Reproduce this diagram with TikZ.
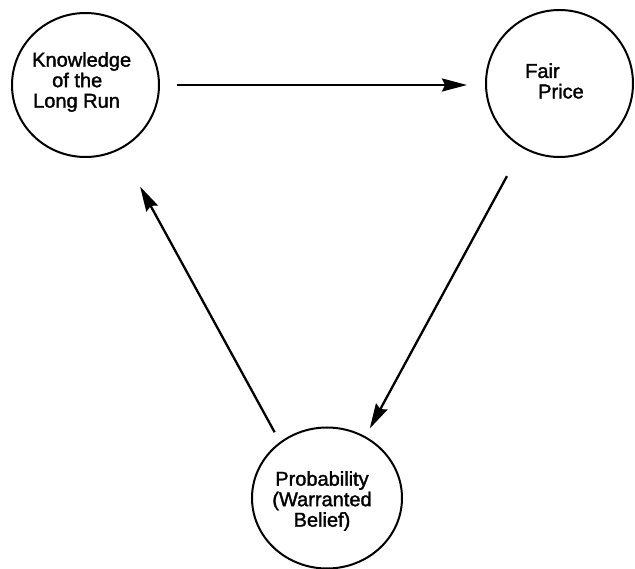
\documentclass[tikz,border=0pt]{standalone}
\usepackage{fontspec}
\setmainfont{Liberation Sans}[FakeBold=1.6]
\usetikzlibrary{arrows.meta,shapes.geometric}
\begin{document}
\begin{tikzpicture}[x=1pt,y=-1pt,
  bubble/.style={ellipse,draw=black,line width=2pt,inner sep=0pt},
  caption/.style={inner sep=0pt,font=\fontsize{20}{20.5}\selectfont},
  flow/.style={line width=2.3pt,-{Stealth[length=25pt,width=13pt,inset=3pt]}}]
  \useasboundingbox (0,0) rectangle (635,569);

  % the three concepts
  \node[bubble,minimum width=147pt,minimum height=144pt] (know) at (85.5,85) {};
  \node[bubble,minimum width=147pt,minimum height=147pt] (fair) at (559.5,83.5) {};
  \node[bubble,minimum width=150pt,minimum height=141pt] (prob) at (327,498) {};

  % their labels
  \node[caption,align=left,anchor=west] (knowtext) at (32,82)
    {Knowledge\\\hspace*{20pt}of the\\\hspace*{1pt}Long Run};
  \node[caption,align=left,anchor=west] (fairtext) at (525,81)
    {Fair\\\hspace*{13pt}Price};
  \node[caption,align=center] (probtext) at (322,501)
    {Probability\\(Warranted\\Belief)};

  % the cycle of arrows
  \draw[flow,shorten <=17pt,shorten >=18pt] (know.east) -- (know.east -| fair.west);
  \draw[flow,shorten <=32pt,shorten >=9pt] (fair.-120) -- (prob.58);
  \draw[flow,shorten <=11pt,shorten >=42pt] (prob.130) -- (know.-62);
\end{tikzpicture}
\end{document}
